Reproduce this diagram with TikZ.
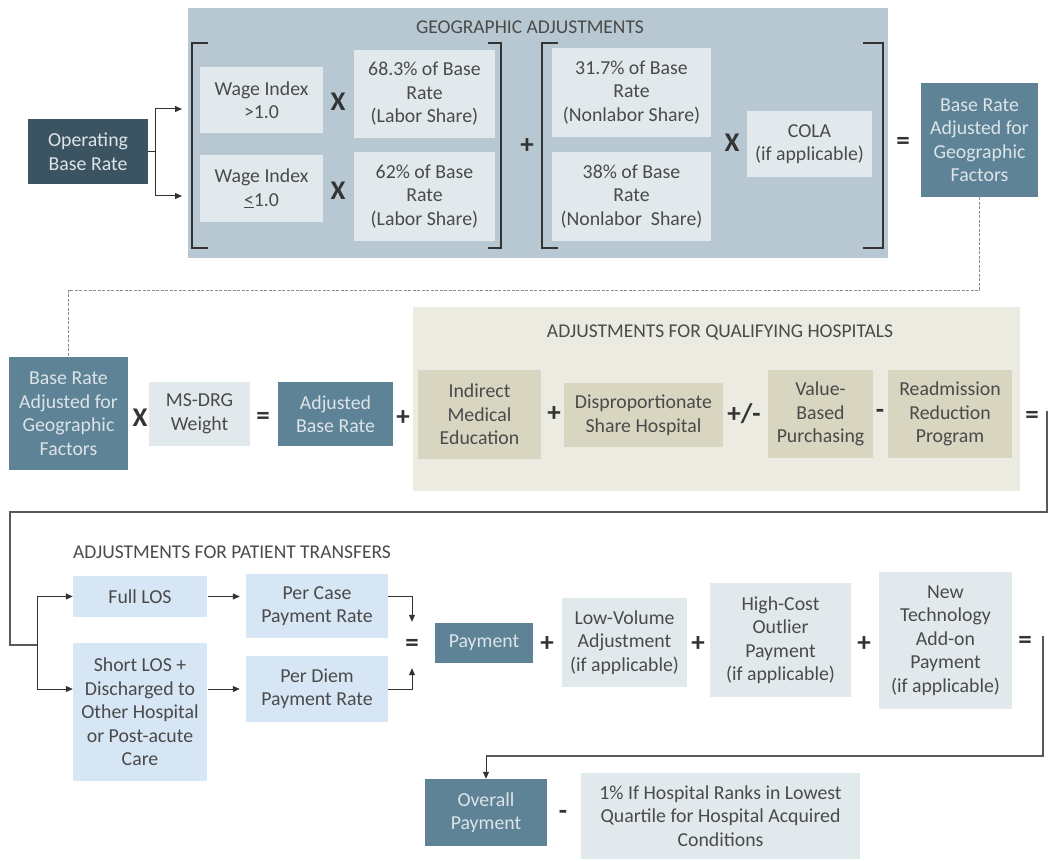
\documentclass[tikz,border=0pt]{standalone}
\usepackage{fontspec}
\setmainfont{Carlito}
\usepackage{xcolor}
\usetikzlibrary{positioning, arrows.meta, calc}
\definecolor{darkslate}{HTML}{3C5461}
\definecolor{steel}{HTML}{5E8396}
\definecolor{geoback}{HTML}{B7C8D2}
\definecolor{paleslate}{HTML}{E2E9ED}
\definecolor{qualback}{HTML}{ECEBE2}
\definecolor{tanfill}{HTML}{D8D5C0}
\definecolor{paleblue}{HTML}{D6E6F5}
\definecolor{inktext}{HTML}{4A4A4A}
\definecolor{lighttext}{HTML}{DCE4E9}
\tikzset{
    dims/.style 2 args={
        minimum width=#1pt,
        minimum height=#2pt,
    },
    box/.style={
        rectangle,
        inner sep=1pt,
        align=center,
        text=inktext,
        font=\fontsize{19.8}{23.5}\selectfont,
    },
    greybox/.style={box, fill=paleslate},
    tanbox/.style={box, fill=tanfill},
    bluebox/.style={box, fill=paleblue},
    steelbox/.style={box, fill=steel, text=lighttext},
    darkbox/.style={box, fill=darkslate, text=lighttext},
    panel/.style={rectangle, inner sep=0pt},
    heading/.style={
        inner sep=0pt,
        text=inktext,
        font=\fontsize{19.5}{19.5}\selectfont,
    },
    sign/.style={
        inner sep=0pt,
        text=black!80,
        font=\fontsize{27}{27}\selectfont\bfseries,
    },
    bracket/.style={draw=black!80, line width=2.6pt},
    arrowline/.style={
        draw=black!80,
        line width=1pt,
        -{Triangle[length=7pt, width=6pt]},
    },
    flowline/.style={draw=black!65, line width=1.3pt},
    dashline/.style={draw=black!45, line width=0.9pt, dash pattern=on 3pt off 1.5pt},
}

\begin{document}
\begin{tikzpicture}[x=1pt, y=-1pt]
    \useasboundingbox (0,0) rectangle (1050,861);

    \node[panel, fill=geoback, dims={700}{250}] (geo) at (538,133) {};
    \node[heading] (geotitle) at (530,27) {GEOGRAPHIC ADJUSTMENTS};

    \node[darkbox, dims={120}{65}] (opbase) at (88,151.5) {Operating\\Base Rate};

    \node[greybox, dims={123}{66}] (wagehi) at (261.5,100) {Wage Index\\>1.0};
    \node[sign] (xhi) at (338,102) {X};
    \node[greybox, dims={141}{88}] (laborhi) at (424.5,94) {68.3\% of Base\\Rate\\(Labor Share)};

    \node[greybox, dims={123}{67}] (wagelo) at (261.5,188.5) {Wage Index\\\underline{<}1.0};
    \node[sign] (xlo) at (338,191) {X};
    \node[greybox, dims={141}{89}] (laborlo) at (424.5,196.5) {62\% of Base\\Rate\\(Labor Share)};

    \node[sign] (plusgeo) at (527,146) {+};

    \node[greybox, dims={159}{89}] (nonlabhi) at (631.5,92.5) {31.7\% of Base\\Rate\\(Nonlabor Share)};
    \node[greybox, dims={159}{89}] (nonlablo) at (631.5,196.5) {38\% of Base\\Rate\\(Nonlabor\ \ Share)};
    \node[sign] (xcola) at (732,143) {X};
    \node[greybox, dims={125}{66}] (cola) at (809.5,144) {COLA\\(if applicable)};

    \node[sign] (eqgeo) at (903,143) {=};
    \node[steelbox, dims={117}{114}] (georate) at (979.5,140) {Base Rate\\Adjusted for\\Geographic\\Factors};

    \draw[bracket] (208,43) -| (192,248) -- (208,248);
    \draw[bracket] (488,43) -| (501,248) -- (488,248);
    \draw[bracket] (558,43) -| (542,248) -- (558,248);
    \draw[bracket] (863,43) -| (883,248) -- (863,248);

    \coordinate (tohi) at (182,109);
    \coordinate (tolo) at (182,196);
    \draw[arrowline] (opbase.east) -- ++(7,0) |- (tohi);
    \draw[arrowline] (opbase.east) -- ++(7,0) |- (tolo);

    \node[steelbox, dims={119}{113}] (georate2) at (68.5,413.5) {Base Rate\\Adjusted for\\Geographic\\Factors};
    \draw[dashline] (georate.south) -- ++(0,93) -| (georate2.north);

    \node[sign] (xdrg) at (140,418) {X};
    \node[greybox, dims={101}{64}] (msdrg) at (199.5,414) {MS-DRG\\Weight};
    \node[sign] (eqdrg) at (263,418) {=};
    \node[steelbox, dims={115}{64}] (adjbase) at (335.5,414) {Adjusted\\Base Rate};
    \node[sign] (plusadj) at (403,418) {+};

    \node[panel, fill=qualback, dims={607}{184}] (qual) at (716.5,399) {};
    \node[heading] (qualtitle) at (720,332) {ADJUSTMENTS FOR QUALIFYING HOSPITALS};
    \node[tanbox, dims={123}{89}] (ime) at (479.5,414.5) {Indirect\\Medical\\Education};
    \node[sign] (plusime) at (554,414) {+};
    \node[tanbox, dims={159}{64}] (dsh) at (643.5,415) {Disproportionate\\Share Hospital};
    \node[sign] (pmdsh) at (744,414) {+/-};
    \node[tanbox, dims={105}{88}] (vbp) at (820.5,414) {Value-\\Based\\Purchasing};
    \node[sign] (minusvbp) at (880,414) {-};
    \node[tanbox, dims={124}{88}] (rrp) at (950,414) {Readmission\\Reduction\\Program};
    \node[sign] (eqqual) at (1032,417) {=};

    \node[heading] (transtitle) at (232,552) {ADJUSTMENTS FOR PATIENT TRANSFERS};
    \node[bluebox, dims={134}{41}] (fulllos) at (140,596.5) {Full LOS};
    \node[bluebox, dims={134}{138}] (shortlos) at (140,712) {Short LOS +\\Discharged to\\Other Hospital\\or Post-acute\\Care};
    \node[bluebox, dims={142}{64}] (percase) at (317,606) {Per Case\\Payment Rate};
    \node[bluebox, dims={142}{66}] (perdiem) at (317,689) {Per Diem\\Payment Rate};

    \coordinate (turnA) at (1047,512);
    \coordinate (turnB) at (10,645);
    \coordinate (fork) at (37,645);
    \draw[flowline] (turnA |- eqqual.north) -- (turnA) -| (turnB) -- (fork);
    \draw[arrowline] (fork) |- (fulllos.west);
    \draw[arrowline] (fork) |- (shortlos.west |- perdiem.west);
    \draw[arrowline, shorten <=1pt, shorten >=6pt] (fulllos.east) -- (fulllos.east -| percase.west);
    \draw[arrowline, shorten <=1pt, shorten >=6pt] (shortlos.east |- perdiem.west) -- (perdiem.west);

    \node[sign, minimum height=30pt] (eqpay) at (412,645) {=};
    \draw[arrowline, shorten >=8pt] ([yshift=10pt]percase.east) -| (eqpay.north);
    \draw[arrowline, shorten >=8pt] (perdiem.east) -| (eqpay.south);

    \node[steelbox, dims={98}{40}] (payment) at (484,643) {Payment};
    \node[sign] (pluspay) at (547,644) {+};
    \node[greybox, dims={125}{89}] (lowvol) at (624.5,642.5) {Low-Volume\\Adjustment\\(if applicable)};
    \node[sign] (pluslow) at (698,644) {+};
    \node[greybox, dims={141}{114}] (highcost) at (780.5,640) {High-Cost\\Outlier\\Payment\\(if applicable)};
    \node[sign] (plushigh) at (864,644) {+};
    \node[greybox, dims={133}{137}] (newtech) at (945.5,640.5) {New\\Technology\\Add-on\\Payment\\(if applicable)};
    \node[sign] (eqnew) at (1025,642) {=};

    \node[steelbox, dims={122}{67}] (overall) at (486,812.5) {Overall\\Payment};
    \node[sign] (minushac) at (563,815) {-};
    \node[greybox, dims={279}{86}] (hac) at (720.5,816) {1\% If Hospital Ranks in Lowest\\Quartile for Hospital Acquired\\Conditions};

    \coordinate (turnC) at (1043,756);
    \draw[flowline] (turnC |- eqnew.north) -- (turnC) -- (turnC -| overall.north);
    \draw[arrowline] (turnC -| overall.north) -- (overall.north);
\end{tikzpicture}
\end{document}
